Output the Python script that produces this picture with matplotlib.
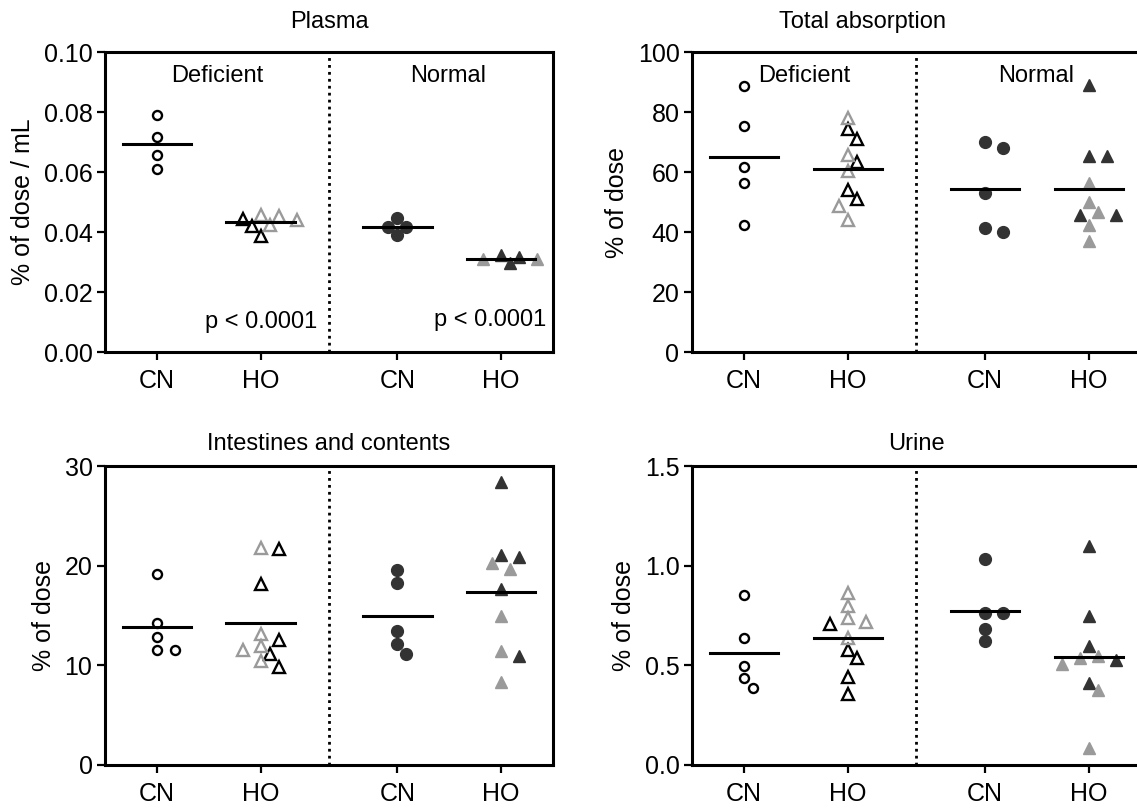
import numpy as np
import matplotlib
matplotlib.use("Agg")
import matplotlib.pyplot as plt

plt.rcParams['font.family'] = ['Liberation Sans', 'DejaVu Sans']

# ---- data ----
groups = ["CN", "HO", "CN", "HO"]

plasma_def_cn = [0.0790, 0.0718, 0.0656, 0.0609]
plasma_def_ho_black = [0.0388, 0.0420, 0.0445]
plasma_def_ho_gray = [0.0458, 0.0440, 0.0455, 0.0425]
plasma_norm_cn = [0.0418, 0.0389, 0.0418, 0.0448]
plasma_norm_ho_dark = [0.0322, 0.0296, 0.0318]
plasma_norm_ho_gray = [0.0311, 0.0311]

abs_def_cn = [88.7, 75.3, 61.8, 56.2, 42.2]
abs_def_ho_black = [74.2, 71.0, 63.3, 54.0, 50.9]
abs_def_ho_gray = [77.9, 65.7, 60.4, 48.8, 44.0]
abs_norm_cn = [68.1, 70.1, 52.9, 40.1, 41.2]
abs_norm_ho_dark = [89.0, 65.4, 65.4, 45.7, 45.7]
abs_norm_ho_gray = [56.4, 49.9, 46.6, 42.3, 37.0]

int_def_cn = [19.2, 14.2, 12.8, 11.5, 11.5]
int_def_ho_black = [21.7, 18.2, 12.5, 11.1, 9.8]
int_def_ho_gray = [21.8, 13.1, 11.9, 11.5, 10.4]
int_norm_cn = [19.6, 18.3, 13.4, 12.1, 11.1]
int_norm_ho_dark = [28.4, 20.9, 21.1, 17.7, 10.9]
int_norm_ho_gray = [19.7, 20.3, 15.0, 11.4, 8.3]

uri_def_cn = [0.853, 0.639, 0.498, 0.438, 0.388]
uri_def_ho_black = [0.706, 0.577, 0.535, 0.443, 0.355]
uri_def_ho_gray = [0.861, 0.800, 0.719, 0.736, 0.639]
uri_norm_cn = [1.032, 0.761, 0.761, 0.681, 0.622]
uri_norm_ho_dark = [1.099, 0.749, 0.597, 0.527, 0.410]
uri_norm_ho_gray = [0.535, 0.507, 0.548, 0.376, 0.087]

DARK = '#333333'
GRAY = '#9a9a9a'
xpos = [0, 1, 2.317, 3.317]
divider = 1.658


def swarm(ax, center, values, step_px=9, min_px=10):
    # spread points sideways (in pixels) so markers don't sit on top of each other
    values = np.asarray(values, dtype=float)
    ypx = ax.transData.transform(np.column_stack([np.full(len(values), center), values]))[:, 1]
    placed = []
    offs = np.zeros(len(values))
    for i in np.argsort(-values, kind='stable'):
        k = 0
        while True:
            slot = 0 if k == 0 else ((k + 1) // 2) * (1 if k % 2 else -1)
            dx = slot * step_px
            if all((dx - px) ** 2 + (ypx[i] - py) ** 2 >= min_px ** 2 for px, py in placed):
                break
            k += 1
        placed.append((dx, ypx[i]))
        offs[i] = dx
    unit = ax.transData.transform((1, 0))[0] - ax.transData.transform((0, 0))[0]
    return center + offs / unit


def panel(ax, title, ylim, yticks, yfmt, ylabel, data, title_pad, title_x=0.5):
    def_cn, def_blk, def_gry, norm_cn, norm_drk, norm_gry = data
    ax.set_xlim(-0.5, 3.817)
    ax.set_ylim(*ylim)
    ax.set_yticks(yticks)
    ax.set_yticklabels([yfmt.format(t) for t in yticks])
    ax.set_xticks(xpos)
    ax.set_xticklabels(groups)
    for s in ax.spines.values():
        s.set_linewidth(2.2)
    ax.tick_params(direction='out', length=6, width=1.6, labelsize=18, pad=3)
    ax.tick_params(axis='x', pad=6)
    ax.set_ylabel(ylabel, fontsize=18, labelpad=6)
    ax.set_title(title, fontsize=17, pad=title_pad, x=title_x)
    ax.axvline(divider, color='black', linestyle=(0, (1, 1.5)), lw=2)

    # deficient CN: open black circles
    xs = swarm(ax, xpos[0], def_cn)
    ax.plot(xs, def_cn, 'o', ms=6.5, mfc='white', mec='black', mew=1.7, ls='none', zorder=3)
    # deficient HO: open triangles
    vals = list(def_blk) + list(def_gry)
    xs = swarm(ax, xpos[1], vals, step_px=9, min_px=11)
    nb = len(def_blk)
    ax.plot(xs[:nb], def_blk, '^', ms=8.5, mfc='none', mec='black', mew=1.7, ls='none', zorder=3)
    ax.plot(xs[nb:], def_gry, '^', ms=8.5, mfc='none', mec=GRAY, mew=1.7, ls='none', zorder=3)
    # normal CN: filled dark circles
    xs = swarm(ax, xpos[2], norm_cn, step_px=9, min_px=11)
    ax.plot(xs, norm_cn, 'o', ms=8.5, mfc=DARK, mec=DARK, ls='none', zorder=3)
    # normal HO: filled triangles
    vals2 = list(norm_drk) + list(norm_gry)
    xs = swarm(ax, xpos[3], vals2, step_px=9, min_px=11)
    nd = len(norm_drk)
    ax.plot(xs[:nd], norm_drk, '^', ms=9, mfc=DARK, mec=DARK, ls='none', zorder=3)
    ax.plot(xs[nd:], norm_gry, '^', ms=9, mfc=GRAY, mec=GRAY, ls='none', zorder=3)

    # mean lines
    means = [np.mean(def_cn), np.mean(vals), np.mean(norm_cn), np.mean(vals2)]
    for x, m in zip(xpos, means):
        ax.plot([x - 0.33, x + 0.33], [m, m], color='black', lw=2.2, zorder=4)


fig = plt.figure(figsize=(11.37, 8.09), dpi=100)
W, H = 1137, 809
ax1 = fig.add_axes([105 / W, 1 - 352 / H, 448 / W, 300 / H])
ax2 = fig.add_axes([692 / W, 1 - 352 / H, 449 / W, 300 / H])
ax3 = fig.add_axes([105 / W, 1 - 765 / H, 448 / W, 299 / H])
ax4 = fig.add_axes([692 / W, 1 - 765 / H, 449 / W, 299 / H])

panel(ax1, "Plasma", (0, 0.10), [0, 0.02, 0.04, 0.06, 0.08, 0.10], "{:.2f}", "% of dose / mL",
      (plasma_def_cn, plasma_def_ho_black, plasma_def_ho_gray,
       plasma_norm_cn, plasma_norm_ho_dark, plasma_norm_ho_gray), 17)
panel(ax2, "Total absorption", (0, 100), [0, 20, 40, 60, 80, 100], "{:.0f}", "% of dose",
      (abs_def_cn, abs_def_ho_black, abs_def_ho_gray,
       abs_norm_cn, abs_norm_ho_dark, abs_norm_ho_gray), 17, title_x=0.38)
panel(ax3, "Intestines and contents", (0, 30), [0, 10, 20, 30], "{:.0f}", "% of dose",
      (int_def_cn, int_def_ho_black, int_def_ho_gray,
       int_norm_cn, int_norm_ho_dark, int_norm_ho_gray), 11.5)
panel(ax4, "Urine", (0, 1.5), [0.0, 0.5, 1.0, 1.5], "{:.1f}", "% of dose",
      (uri_def_cn, uri_def_ho_black, uri_def_ho_gray,
       uri_norm_cn, uri_norm_ho_dark, uri_norm_ho_gray), 11.5)

# sub-group labels on the top row
for ax in (ax1, ax2):
    ax.text(0.58, 0.92, "Deficient", transform=ax.get_xaxis_transform(),
            ha='center', va='center', fontsize=17)
    ax.text(2.81, 0.92, "Normal", transform=ax.get_xaxis_transform(),
            ha='center', va='center', fontsize=17)

ax1.text(1.55, 0.10, "p < 0.0001", transform=ax1.get_xaxis_transform(),
         ha='right', va='center', fontsize=17)
ax1.text(3.75, 0.107, "p < 0.0001", transform=ax1.get_xaxis_transform(),
         ha='right', va='center', fontsize=17)

fig.savefig("out.png", dpi=100)
